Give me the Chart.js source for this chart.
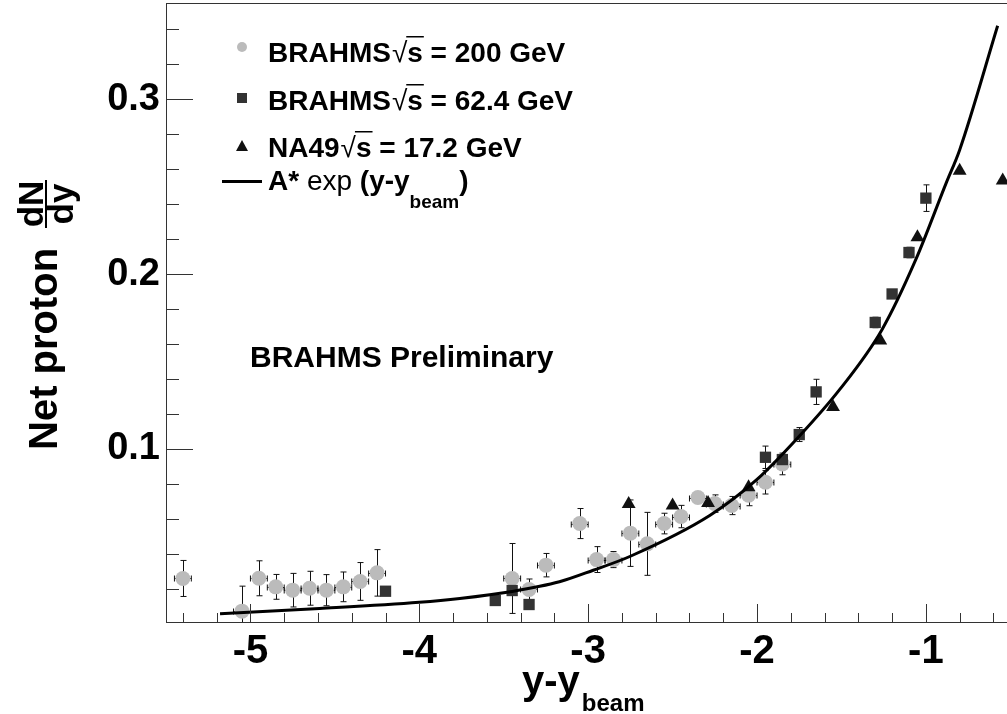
<!DOCTYPE html>
<html>
<head>
<meta charset="utf-8">
<script src="https://cdn.jsdelivr.net/npm/chart.js@4/dist/chart.umd.min.js"></script>
<style>
  html, body { margin: 0; padding: 0; background: #fff; overflow: hidden; }
  #wrap { width: 1012px; height: 714px; }
</style>
</head>
<body>
<div id="wrap"><canvas id="c" width="1012" height="714"></canvas></div>
<script>
// BRAHMS sqrt(s) = 200 GeV (grey circles)
const x200 = [-5.4, -5.05, -4.95, -4.85, -4.75, -4.65, -4.55, -4.45, -4.35, -4.25,
              -3.45, -3.35, -3.25, -3.05, -2.95, -2.85, -2.75, -2.65, -2.55, -2.45,
              -2.35, -2.25, -2.15, -2.05, -1.95, -1.85];
const y200 = [0.0259, 0.0072, 0.026, 0.0211, 0.0192, 0.0203, 0.0192, 0.0211, 0.0242, 0.0291,
              0.0259, 0.0196, 0.0335, 0.0573, 0.0367, 0.0367, 0.0518, 0.0457, 0.0573, 0.0613,
              0.0722, 0.0687, 0.0676, 0.0735, 0.0809, 0.0914];
const e200 = [0.0103, 0.0143, 0.010, 0.0071, 0.0096, 0.0097, 0.0089, 0.0085, 0.0108, 0.0133,
              0.020, 0.006, 0.0067, 0.0086, 0.0074, 0.0046, 0.019, 0.018, 0.0059, 0.0064,
              0.002, 0.005, 0.0052, 0.006, 0.0067, 0.0062];
const ex200 = x200.map(() => 0.05);

// BRAHMS sqrt(s) = 62.4 GeV (dark squares)
const x62 = [-4.2, -3.55, -3.45, -3.35, -1.95, -1.85, -1.75, -1.65, -1.3, -1.2, -1.1, -1.0];
const y62 = [0.0186, 0.0133, 0.019, 0.011, 0.0952, 0.0939, 0.1082, 0.1326, 0.1723, 0.1886, 0.2123, 0.2434];
const e62 = [0, 0, 0, 0, 0.0064, 0.002, 0.004, 0.0072, 0.003, 0, 0.003, 0.0076];

// NA49 sqrt(s) = 17.2 GeV (triangles)
const xNA49 = [-2.76, -2.5, -2.29, -2.05, -1.55, -1.27, -1.05, -0.8, -0.545];
const yNA49 = [0.0685, 0.0676, 0.069, 0.078, 0.124, 0.162, 0.221, 0.259, 0.2535];

// A* exp(y - y_beam) curve
const curveX = [-5.18, -4.59, -4.0, -3.76, -3.45, -3.17, -2.97, -2.75, -2.28, -2.0, -1.75, -1.51, -1.26, -1.06, -0.88, -0.80, -0.575];
const curveY = [0.0057, 0.0087, 0.0123, 0.0145, 0.0185, 0.024, 0.0306, 0.0386, 0.0619, 0.0825, 0.1072, 0.134, 0.1682, 0.2082, 0.252, 0.271, 0.342];

// axis ticks
const xTicks = [-5.4, -5.2, -5, -4.8, -4.6, -4.4, -4.2, -4, -3.8, -3.6, -3.4, -3.2, -3, -2.8, -2.6, -2.4,
                -2.2, -2, -1.8, -1.6, -1.4, -1.2, -1, -0.8, -0.6];
const yTicks = [0.02, 0.04, 0.06, 0.08, 0.1, 0.12, 0.14, 0.16, 0.18, 0.2, 0.22, 0.24, 0.26, 0.28, 0.3, 0.32, 0.34];

const legendLabels = ['BRAHMS√s = 200 GeV', 'BRAHMS√s = 62.4 GeV', 'NA49√s = 17.2 GeV'];

const pts = (xs, ys) => xs.map((v, i) => ({ x: v, y: ys[i] }));
const isMajorX = v => Math.abs(v - Math.round(v)) < 1e-6;
const isMajorY = v => Math.abs(v * 10 - Math.round(v * 10)) < 1e-6;
const FAM = '"Liberation Sans", Arial, Helvetica, sans-serif';

const errorBars = {
  id: 'errorBars',
  beforeDatasetsDraw(chart) {
    const { ctx, chartArea: a, scales: { x, y } } = chart;
    ctx.save();
    ctx.beginPath();
    ctx.rect(a.left, a.top, a.right - a.left, a.bottom - a.top);
    ctx.clip();
    ctx.strokeStyle = '#111';
    ctx.lineWidth = 1;
    chart.data.datasets.forEach(ds => {
      if (!ds.yErr) return;
      ds.data.forEach((p, i) => {
        const px = Math.round(x.getPixelForValue(p.x)) + 0.5;
        const py = Math.round(y.getPixelForValue(p.y)) + 0.5;
        const ey = ds.yErr[i], ex = ds.xErr ? ds.xErr[i] : 0;
        ctx.beginPath();
        if (ey > 0) {
          const t = y.getPixelForValue(p.y + ey), b = y.getPixelForValue(p.y - ey);
          ctx.moveTo(px, t); ctx.lineTo(px, b);
          ctx.moveTo(px - 3, t); ctx.lineTo(px + 3, t);
          ctx.moveTo(px - 3, b); ctx.lineTo(px + 3, b);
        }
        if (ex > 0) {
          const l = x.getPixelForValue(p.x - ex), r = x.getPixelForValue(p.x + ex);
          ctx.moveTo(l, py); ctx.lineTo(r, py);
          ctx.moveTo(l, py - 3); ctx.lineTo(l, py + 3);
          ctx.moveTo(r, py - 3); ctx.lineTo(r, py + 3);
        }
        ctx.stroke();
      });
    });
    ctx.restore();
  }
};

// frame, inward ticks, titles, legend and label
const decor = {
  id: 'decor',
  afterDraw(chart) {
    const { ctx, chartArea: a, scales: { x, y } } = chart;
    ctx.save();
    ctx.strokeStyle = '#333';
    ctx.lineWidth = 1;
    ctx.strokeRect(Math.round(a.left) + 0.5, Math.round(a.top) + 0.5, a.right - a.left + 5, Math.round(a.bottom - a.top));
    ctx.beginPath();
    x.ticks.forEach(t => {
      const px = Math.round(x.getPixelForValue(t.value)) + 0.5;
      ctx.moveTo(px, a.bottom); ctx.lineTo(px, a.bottom - (isMajorX(t.value) ? 18 : 9));
    });
    y.ticks.forEach(t => {
      const py = Math.round(y.getPixelForValue(t.value)) + 0.5;
      ctx.moveTo(a.left, py); ctx.lineTo(a.left + (isMajorY(t.value) ? 27 : 13), py);
    });
    ctx.stroke();

    ctx.fillStyle = '#000';
    ctx.textBaseline = 'alphabetic';
    ctx.textAlign = 'left';

    // x title
    ctx.font = 'bold 40px ' + FAM;
    ctx.fillText('y-y', 522, 694);
    let w = ctx.measureText('y-y').width;
    ctx.font = 'bold 24px ' + FAM;
    ctx.fillText('beam', 522 + w + 2, 711);

    // y title (rotated)
    ctx.save();
    ctx.rotate(-Math.PI / 2);
    ctx.font = 'bold 40px ' + FAM;
    ctx.fillText('Net proton', -450, 57);
    ctx.font = 'bold 35px ' + FAM;
    ctx.textAlign = 'center';
    ctx.fillText('dN', -204, 43);
    ctx.fillText('dy', -204, 73);
    ctx.fillRect(-228, 45, 48, 2);
    ctx.restore();

    // legend
    const bold = 'bold 28px ' + FAM, norm = '28px ' + FAM;
    const rows = [
      { mark: 'circle', my: 47, base: 62 },
      { mark: 'square', my: 98, base: 110 },
      { mark: 'triangle', my: 146, base: 157 }
    ];
    rows.forEach((r, i) => {
      const mx = 242;
      if (r.mark === 'circle') {
        ctx.fillStyle = '#bbbbbb';
        ctx.beginPath(); ctx.arc(mx, r.my, 5, 0, Math.PI * 2); ctx.fill();
      } else if (r.mark === 'square') {
        ctx.fillStyle = '#333';
        ctx.fillRect(mx - 5, r.my - 5, 10, 10);
      } else {
        ctx.fillStyle = '#111';
        ctx.beginPath(); ctx.moveTo(mx, r.my - 6); ctx.lineTo(mx + 6, r.my + 5); ctx.lineTo(mx - 6, r.my + 5); ctx.closePath(); ctx.fill();
      }
      ctx.fillStyle = '#000';
      const [pre, post] = legendLabels[i].split('√s');
      let cx = 268;
      ctx.font = bold; ctx.fillText(pre, cx, r.base); cx += ctx.measureText(pre).width + 1;
      ctx.font = norm; ctx.fillText('√', cx, r.base); cx += ctx.measureText('√').width;
      ctx.font = bold; ctx.fillText('s', cx, r.base);
      const sw = ctx.measureText('s').width;
      ctx.fillRect(cx - 1, r.base - 26, sw + 2, 1.5);
      cx += sw;
      ctx.fillText(post, cx, r.base);
    });
    // curve entry
    ctx.fillRect(222, 180, 40, 3);
    let cx = 268, b = 190;
    ctx.font = bold; ctx.fillText('A*', cx, b); cx += ctx.measureText('A* ').width;
    ctx.font = norm; ctx.fillText('exp ', cx, b); cx += ctx.measureText('exp ').width;
    ctx.font = bold; ctx.fillText('(y-y', cx, b); cx += ctx.measureText('(y-y').width;
    ctx.font = 'bold 19px ' + FAM; ctx.fillText('beam', cx, b + 18); cx += ctx.measureText('beam').width;
    ctx.font = bold; ctx.fillText(')', cx, b);

    ctx.font = 'bold 30px ' + FAM;
    ctx.fillText('BRAHMS Preliminary', 250, 367);
    ctx.restore();
  }
};

new Chart(document.getElementById('c'), {
  type: 'scatter',
  data: {
    datasets: [
      {
        label: 'A* exp (y-y_beam)',
        data: pts(curveX, curveY),
        showLine: true,
        borderColor: '#000',
        borderWidth: 3,
        pointRadius: 0,
        cubicInterpolationMode: 'monotone',
        order: 0
      },
      {
        label: 'NA49 √s = 17.2 GeV',
        data: pts(xNA49, yNA49),
        pointStyle: 'triangle',
        pointRadius: 8,
        backgroundColor: '#111',
        borderColor: '#111',
        borderWidth: 0,
        order: 1
      },
      {
        label: 'BRAHMS √s = 62.4 GeV',
        data: pts(x62, y62),
        yErr: e62,
        pointStyle: 'rect',
        pointRadius: 8,
        backgroundColor: '#333',
        borderColor: '#333',
        borderWidth: 0,
        order: 2
      },
      {
        label: 'BRAHMS √s = 200 GeV',
        data: pts(x200, y200),
        yErr: e200,
        xErr: ex200,
        pointStyle: 'circle',
        pointRadius: 7.5,
        backgroundColor: '#bbbbbb',
        borderColor: '#bbbbbb',
        borderWidth: 0,
        order: 3
      }
    ]
  },
  options: {
    responsive: false,
    animation: false,
    layout: { autoPadding: false, padding: { top: 3, right: 0, left: 0, bottom: 0 } },
    plugins: { legend: { display: false }, tooltip: { enabled: false } },
    scales: {
      x: {
        type: 'linear',
        min: -5.5,
        max: -0.49,
        afterBuildTicks: s => { s.ticks = xTicks.map(v => ({ value: v })); },
        afterFit: s => { s.height = 92; s.paddingLeft = 0; s.paddingRight = 0; },
        grid: { display: false, drawTicks: false },
        border: { display: false },
        ticks: {
          autoSkip: false,
          maxRotation: 0,
          padding: 6,
          color: '#000',
          font: { family: 'Liberation Sans', size: 40, weight: 'bold' },
          callback: v => isMajorX(v) ? String(Math.round(v)) : ''
        }
      },
      y: {
        type: 'linear',
        min: 0.001,
        max: 0.355,
        afterBuildTicks: s => { s.ticks = yTicks.map(v => ({ value: v })); },
        afterFit: s => { s.width = 166; s.paddingTop = 0; s.paddingBottom = 0; },
        grid: { display: false, drawTicks: false },
        border: { display: false },
        ticks: {
          autoSkip: false,
          padding: 6,
          color: '#000',
          font: { family: 'Liberation Sans', size: 38, weight: 'bold' },
          callback: v => isMajorY(v) ? v.toFixed(1) : ''
        }
      }
    }
  },
  plugins: [errorBars, decor]
});
</script>
</body>
</html>
